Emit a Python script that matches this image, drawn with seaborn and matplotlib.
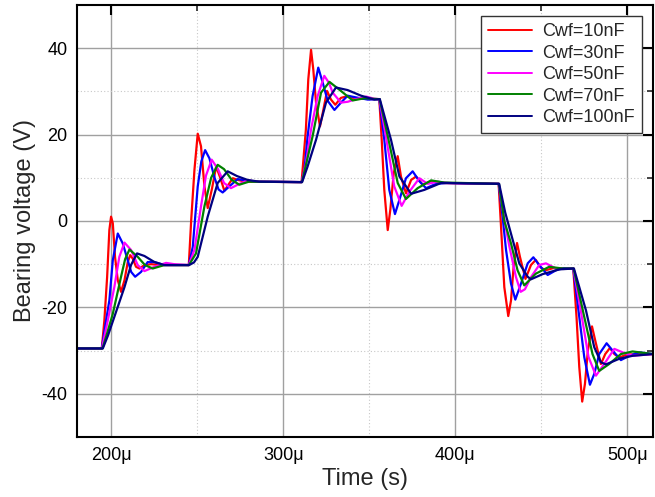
import matplotlib
matplotlib.use("Agg")
import matplotlib.pyplot as plt
import numpy as np
import pandas as pd
import seaborn as sns
from matplotlib.ticker import FixedLocator, FuncFormatter

# time in microseconds, bearing voltage in volts
t_10nf = [180, 194.4, 195.9, 197.5, 198.8, 199.8, 200.8, 202.1, 203.7, 205.6, 207.6, 209.5, 210.9,
          212.4, 214.3, 216.3, 219.2, 223.1, 228.9, 245.0,
          246.4, 248.3, 250.2, 252.1, 254.1, 256.0, 258.5, 260.9, 263.3, 265.7, 268.2, 270.6, 273.5,
          278.0, 310.6,
          313.1, 314.5, 316.1, 317.4, 319.0, 321.3, 322.9, 325.4, 327.7, 330.2, 333.5, 337.4, 342.0,
          355.8,
          357.2, 358.7, 360.7, 362.2, 364.2, 366.5, 368.4, 371.3, 374.3, 377.2, 381.0, 385.9, 392.0,
          425.2,
          426.9, 428.5, 430.8, 432.4, 433.9, 435.9, 437.6, 440.8, 444.0, 446.8, 449.7, 452.6, 457.0,
          468.6,
          470.5, 472.1, 473.8, 475.4, 477.1, 479.5, 481.4, 484.7, 487.2, 489.9, 492.5, 495.3, 500.0,
          515.0]
v_10nf = [-29.5, -29.5, -23.0, -13.0, -2.1, 1.0, -0.5, -8.3, -13.7, -16.4, -13.7, -9.5, -7.9,
          -8.7, -10.6, -11.0, -10.2, -10.0, -10.2, -10.2,
          0.2, 11.9, 20.2, 17.3, 8.0, 3.0, 7.5, 12.6, 10.0, 7.0, 8.5, 9.9, 9.5,
          9.1, 9.0,
          21.2, 32.8, 39.6, 35.1, 27.4, 21.9, 25.0, 30.1, 28.1, 26.9, 28.5, 28.9, 28.3,
          28.2,
          18.8, 7.2, -2.1, 2.6, 11.1, 15.0, 10.3, 6.4, 9.5, 10.3, 8.4, 9.2, 8.8,
          8.6,
          -3.5, -15.3, -22.0, -18.4, -10.6, -5.1, -8.3, -13.4, -10.2, -9.0, -10.8, -11.4, -10.9,
          -11.0,
          -22.2, -33.8, -41.8, -37.7, -30.0, -24.4, -27.7, -33.1, -30.8, -29.4, -30.8, -31.6, -30.9,
          -30.8]

t_30nf = [180, 194.4, 196.9, 198.8, 200.8, 203.7, 206.6, 209.5, 211.5, 213.8, 217.2, 221.1, 225.0,
          230.8, 245.0,
          247.3, 250.2, 252.3, 254.5, 257.0, 260.0, 262.3, 264.7, 268.0, 273.4, 278.0, 284.0, 310.6,
          312.3, 314.1, 317.0, 320.3, 322.9, 325.8, 329.7, 333.5, 337.4, 342.3, 349.1, 355.8,
          358.7, 361.6, 364.9, 367.5, 371.3, 375.2, 379.1, 383.0, 388.8, 395.0, 425.2,
          427.5, 429.5, 432.4, 434.9, 438.2, 442.1, 445.4, 448.8, 453.7, 458.6, 463.0, 468.6,
          472.1, 475.0, 478.3, 480.8, 483.7, 488.0, 491.5, 496.3, 501.2, 507.0, 515.0]
v_30nf = [-29.5, -29.5, -23.0, -18.4, -9.1, -2.9, -5.2, -9.1, -11.8, -12.9, -11.8, -9.5, -9.5,
          -10.2, -10.2,
          -6.0, 8.0, 13.8, 16.4, 14.5, 10.0, 7.3, 6.6, 7.8, 9.7, 9.4, 9.1, 9.0,
          12.0, 19.6, 28.9, 35.5, 32.0, 27.8, 25.7, 27.4, 29.0, 28.6, 28.1, 28.2,
          18.8, 7.2, 1.6, 4.9, 9.9, 11.5, 9.2, 7.6, 8.6, 8.8, 8.6,
          1.0, -6.7, -14.5, -18.2, -14.5, -9.8, -8.4, -10.2, -12.5, -11.4, -10.9, -11.0,
          -22.2, -31.5, -37.9, -35.4, -30.8, -28.3, -30.0, -32.2, -31.2, -30.4, -30.8]

t_50nf = [180, 194.5, 197.9, 201.7, 204.6, 207.6, 211.4, 215.3, 219.2, 225.0, 231.8, 236.6, 245.0,
          248.3, 252.1, 255.0, 258.3, 262.0, 265.5, 269.5, 274.0, 279.2, 285.0, 310.6,
          313.0, 316.1, 320.0, 323.8, 326.5, 328.7, 333.5, 337.5, 341.3, 348.1, 352.9, 355.9,
          360.3, 364.5, 368.8, 373.3, 379.1, 383.9, 389.7, 395.0, 425.3,
          428.0, 431.5, 435.3, 438.0, 440.5, 444.0, 448.8, 452.7, 458.6, 463.0, 468.7,
          473.6, 477.5, 481.8, 486.6, 492.5, 497.3, 503.1, 515.0]
v_50nf = [-29.5, -29.5, -23.0, -15.3, -8.3, -5.0, -6.7, -10.2, -11.6, -10.6, -9.7, -10.0, -10.2,
          -6.7, 3.4, 10.5, 14.2, 12.0, 8.8, 7.6, 8.5, 9.4, 9.1, 9.0,
          13.0, 21.2, 29.0, 33.6, 32.0, 29.7, 27.4, 27.6, 28.1, 28.8, 28.3, 28.2,
          18.0, 8.0, 3.5, 6.8, 9.9, 8.6, 9.1, 8.8, 8.6,
          1.5, -6.0, -13.0, -16.4, -15.8, -13.0, -10.2, -9.8, -11.0, -11.1, -11.0,
          -22.2, -31.5, -35.8, -33.1, -29.6, -30.4, -31.2, -30.8]

t_70nf = [180, 194.8, 197.5, 200.8, 205.6, 208.0, 210.5, 215.3, 219.5, 224.0, 230.8, 245.1,
          249.2, 254.1, 258.0, 261.8, 265.5, 270.0, 274.4, 280.0, 310.8,
          317.0, 321.9, 326.8, 333.5, 340.3, 347.1, 356.0,
          361.6, 366.5, 371.3, 378.1, 385.9, 393.6, 425.4,
          428.5, 432.4, 436.2, 440.1, 446.8, 454.6, 462.4, 468.8,
          475.0, 479.8, 483.7, 489.5, 496.3, 503.1, 515.0]
v_70nf = [-29.5, -29.5, -26.0, -21.5, -12.9, -8.8, -6.6, -8.3, -10.2, -11.0, -10.2, -10.2,
          -7.5, 3.4, 10.0, 13.0, 12.0, 9.5, 8.4, 9.1, 9.0,
          19.6, 29.7, 32.2, 30.1, 27.9, 28.4, 28.2,
          18.0, 8.8, 5.1, 7.6, 9.4, 8.9, 8.6,
          0.0, -5.2, -11.4, -14.9, -12.2, -10.6, -11.0, -11.0,
          -22.2, -30.8, -34.7, -33.1, -30.8, -30.2, -30.8]

t_100nf = [180, 195.0, 198.0, 201.7, 207.6, 211.4, 214.9, 219.2, 225.0, 230.8, 245.2,
           248.0, 250.2, 256.0, 261.8, 267.6, 273.0, 279.2, 286.0, 310.9,
           314.0, 319.0, 324.8, 330.6, 337.4, 345.2, 352.9, 356.1,
           359.0, 362.6, 367.5, 374.3, 382.0, 391.7, 425.5,
           429.0, 433.4, 437.2, 442.1, 444.0, 450.8, 460.5, 469.0,
           476.0, 480.8, 484.7, 487.6, 495.3, 503.1, 515.0]
v_100nf = [-29.5, -29.5, -26.5, -22.2, -15.3, -10.2, -7.5, -8.1, -9.5, -10.2, -10.2,
           -9.6, -8.3, 1.0, 8.8, 11.5, 10.4, 9.5, 9.1, 9.0,
           12.5, 18.8, 27.4, 30.9, 30.3, 29.0, 28.1, 28.2,
           24.0, 18.8, 10.3, 6.3, 7.2, 8.8, 8.6,
           2.0, -4.4, -9.8, -12.9, -13.5, -12.3, -11.2, -11.0,
           -20.7, -29.2, -32.7, -33.2, -31.9, -31.2, -30.8]

labels = ["Cwf=10nF", "Cwf=30nF", "Cwf=50nF", "Cwf=70nF", "Cwf=100nF"]
colors = ["#ff0000", "#0000ff", "#ff00ff", "#008000", "#000080"]
series = [(t_10nf, v_10nf), (t_30nf, v_30nf), (t_50nf, v_50nf),
          (t_70nf, v_70nf), (t_100nf, v_100nf)]

x_major = [200, 300, 400, 500]
x_minor = [250, 350, 450]
y_major = [-40, -20, 0, 20, 40]
y_minor = [-30, -10, 10, 30]


def main() -> None:
    frames = []
    for label, (t, v) in zip(labels, series):
        frames.append(pd.DataFrame({"t": t, "v": v, "series": label}))
    df = pd.concat(frames, ignore_index=True)

    sns.set_style("white")
    plt.rcParams["font.family"] = ["Liberation Sans", "DejaVu Sans"]
    plt.rcParams["axes.unicode_minus"] = False

    fig = plt.figure(figsize=(6.55, 4.97), dpi=100)
    ax = fig.add_axes([0.1176, 0.1207, 0.8794, 0.8693])

    sns.lineplot(data=df, x="t", y="v", hue="series", hue_order=labels,
                 palette=dict(zip(labels, colors)), estimator=None, sort=False,
                 linewidth=1.6, ax=ax)
    for line in ax.get_lines():
        line.set_solid_joinstyle("round")

    ax.set_xlim(180, 515)
    ax.set_ylim(-50, 50)
    ax.xaxis.set_major_locator(FixedLocator(x_major))
    ax.xaxis.set_minor_locator(FixedLocator(x_minor))
    ax.yaxis.set_major_locator(FixedLocator(y_major))
    ax.yaxis.set_minor_locator(FixedLocator(y_minor))
    ax.xaxis.set_major_formatter(FuncFormatter(lambda x, _: f"{x:.0f}\u03bc"))
    ax.yaxis.set_major_formatter(FuncFormatter(lambda y, _: f"{y:.0f}"))

    ax.grid(which="major", color="#a0a0a0", linewidth=1.0, linestyle="-")
    ax.grid(which="minor", color="#c8c8c8", linewidth=0.8, linestyle=(0, (1, 2)))
    ax.set_axisbelow(True)

    for side in ax.spines.values():
        side.set_color("black")
        side.set_linewidth(1.5)
    ax.tick_params(which="major", direction="in", length=7, width=1.5,
                   top=True, right=True, labelsize=13, colors="black", pad=7)
    ax.tick_params(which="minor", direction="in", length=4, width=1.2,
                   top=True, right=True)

    ax.set_xlabel("Time (s)", fontsize=17, labelpad=3)
    ax.set_ylabel("Bearing voltage (V)", fontsize=17, labelpad=4)

    leg = ax.legend(loc="upper right", fontsize=13, frameon=True, fancybox=False,
                    edgecolor="#333333", framealpha=1, handlelength=2.4,
                    labelspacing=0.25, borderaxespad=0.6, borderpad=0.4,
                    handletextpad=0.6)
    leg.get_frame().set_linewidth(1.0)
    for line in leg.get_lines():
        line.set_linewidth(1.4)

    fig.savefig("out.png", dpi=100)
    plt.close(fig)


if __name__ == "__main__":
    main()
